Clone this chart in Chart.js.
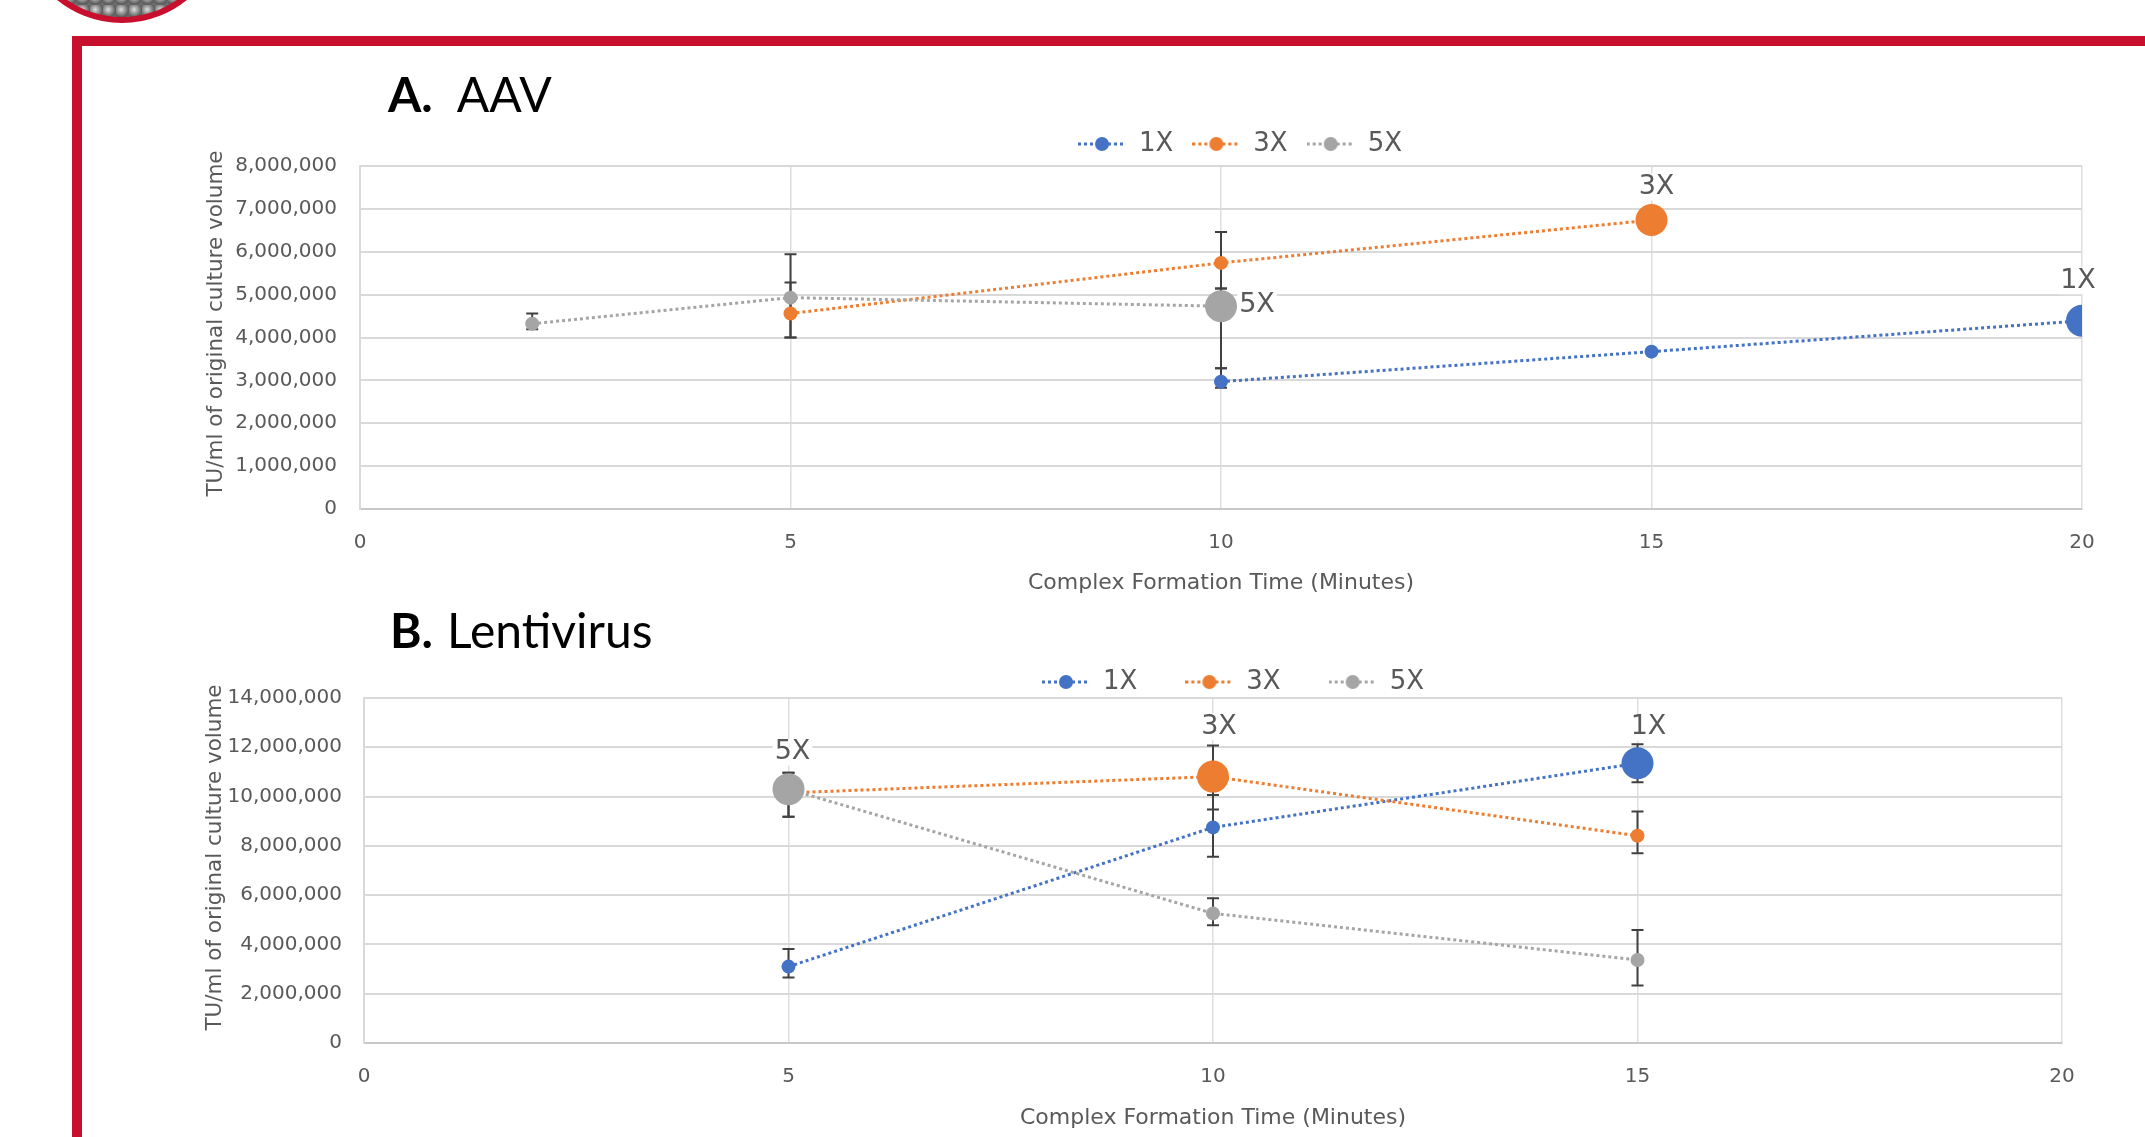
<!DOCTYPE html>
<html>
<head>
<meta charset="utf-8">
<script src="https://cdn.jsdelivr.net/npm/chart.js@4/dist/chart.umd.min.js"></script>
<style>
  html, body { margin: 0; padding: 0; background: #ffffff; }
  body { width: 2145px; height: 1137px; position: relative; overflow: hidden; }
  .frameTop { position: absolute; left: 72px; top: 36px; width: 2073px; height: 10px; background: #C8102E; }
  .frameLeft { position: absolute; left: 72px; top: 36px; width: 10px; height: 1101px; background: #C8102E; }
  .logo { position: absolute; left: 19px; top: -183px; width: 194px; height: 194px; border: 6px solid #C8102E; border-radius: 50%;
          background: radial-gradient(circle at 40% 35%, #e0e0e0 0, #a0a0a0 30%, #5c5c5c 65%, #7a7a7a 100%) 0 0 / 13px 13px, #808080; }
  canvas { position: absolute; left: 0; }
  .ptitle { position: absolute; font-family: Lato, "Open Sans", sans-serif; font-size: 48px; line-height: 48px; color: #000; white-space: nowrap; }
  .ptitle b { font-weight: 700; }
</style>
</head>
<body>
<div class="logo"></div>
<div class="frameTop"></div>
<div class="frameLeft"></div>
<canvas id="chartA" width="2145" height="600" style="top:0px"></canvas>
<canvas id="chartB" width="2145" height="537" style="top:600px"></canvas>
<div class="ptitle" style="left:388px; top:70px;"><b>A.</b><span style="margin-left:24px">AAV</span></div>
<div class="ptitle" style="left:390px; top:606px;"><b>B.</b><span style="margin-left:14px">Lentivirus</span></div>

<script>
// ---------------- DATA ----------------
const seriesNames = ['1X', '3X', '5X'];
const xTitle = 'Complex Formation Time (Minutes)';
const yTitle = 'TU/ml of original culture volume';

// Panel A: AAV
const aavX1 = [10, 15, 20];
const aavY1 = [2970000, 3670000, 4390000];
const aavErrUp1 = [310000, 0, 0];
const aavErrDn1 = [140000, 0, 0];
const aavX3 = [5, 10, 15];
const aavY3 = [4560000, 5740000, 6740000];
const aavErrUp3 = [720000, 720000, 0];
const aavErrDn3 = [560000, 600000, 0];
const aavX5 = [2, 5, 10];
const aavY5 = [4320000, 4930000, 4730000];
const aavErrUp5 = [240000, 1010000, 410000];
const aavErrDn5 = [130000, 930000, 1450000];
const aavLabelled = [2, 2, 2];          // index of the labelled (highlighted) point in each series
const aavYMax = 8000000, aavYStep = 1000000;

// Panel B: Lentivirus
const lvX1 = [5, 10, 15];
const lvY1 = [3100000, 8750000, 11350000];
const lvErrUp1 = [710000, 1310000, 770000];
const lvErrDn1 = [440000, 1190000, 770000];
const lvX3 = [5, 10, 15];
const lvY3 = [10150000, 10810000, 8410000];
const lvErrUp3 = [820000, 1260000, 980000];
const lvErrDn3 = [970000, 1330000, 710000];
const lvX5 = [5, 10, 15];
const lvY5 = [10300000, 5260000, 3370000];
const lvErrUp5 = [670000, 610000, 1220000];
const lvErrDn5 = [1120000, 480000, 1040000];
const lvLabelled = [2, 1, 0];
const lvYMax = 14000000, lvYStep = 2000000;

const xMin = 0, xMax = 20, xStep = 5;

// ---------------- STYLE ----------------
const seriesColors = ['#4472C4', '#ED7D31', '#A5A5A5'];
const FONT = '"DejaVu Sans", sans-serif';
const TEXT = '#595959';

Chart.defaults.font.family = FONT;
Chart.defaults.color = TEXT;

function toPoints(xs, ys) { return xs.map((x, i) => ({ x: x, y: ys[i] })); }

function legendIcon(color) {
  const c = document.createElement('canvas');
  c.width = 48; c.height = 16;
  const g = c.getContext('2d');
  g.strokeStyle = color; g.lineWidth = 3; g.setLineDash([3, 3]);
  g.beginPath(); g.moveTo(0, 8); g.lineTo(48, 8); g.stroke();
  g.setLineDash([]);
  g.fillStyle = color;
  g.beginPath(); g.arc(24, 8, 7, 0, Math.PI * 2); g.fill();
  return c;
}

const errorBarPlugin = {
  id: 'errorBars',
  beforeDatasetsDraw(chart, args, opts) {
    const ctx = chart.ctx, ys = chart.scales.y;
    ctx.save();
    ctx.strokeStyle = opts.color; ctx.lineWidth = opts.width; ctx.setLineDash([]);
    chart.data.datasets.forEach((ds, i) => {
      const meta = chart.getDatasetMeta(i);
      meta.data.forEach((pt, j) => {
        const up = ds.errUp[j], dn = ds.errDn[j];
        if (!up && !dn) return;
        const v = ds.data[j].y, x = pt.x;
        const yT = ys.getPixelForValue(v + up), yB = ys.getPixelForValue(v - dn);
        ctx.beginPath();
        ctx.moveTo(x, yT); ctx.lineTo(x, yB);
        if (up) { ctx.moveTo(x - opts.cap, yT); ctx.lineTo(x + opts.cap, yT); }
        if (dn) { ctx.moveTo(x - opts.cap, yB); ctx.lineTo(x + opts.cap, yB); }
        ctx.stroke();
      });
    });
    ctx.restore();
  }
};

const pointLabelPlugin = {
  id: 'pointLabels',
  afterDatasetsDraw(chart, args, opts) {
    const ctx = chart.ctx;
    ctx.save();
    ctx.font = opts.size + 'px ' + FONT;
    ctx.textAlign = 'center'; ctx.textBaseline = 'middle';
    chart.data.datasets.forEach((ds, i) => {
      const pt = chart.getDatasetMeta(i).data[ds.labelIndex];
      const off = opts.offsets[i];
      const x = pt.x + off.dx, y = pt.y + off.dy;
      const w = ctx.measureText(ds.label).width + 4;
      ctx.fillStyle = '#ffffff';
      ctx.fillRect(x - w / 2, y - opts.size * 0.5, w, opts.size);
      ctx.fillStyle = TEXT;
      ctx.fillText(ds.label, x, y);
    });
    ctx.restore();
  }
};

const legendPlacePlugin = {
  id: 'legendPlace',
  afterLayout(chart, args, opts) {
    const lg = chart.legend;
    if (!lg) return;
    const dx = opts.cx - (lg.left + lg.right) / 2;
    const dy = opts.cy - (lg.top + opts.pad + opts.fs / 2);
    lg.left += dx; lg.right += dx; lg.top += dy; lg.bottom += dy;
  }
};

// vertical axis title, placed a little above the plot-area centre as in the reference
const yTitlePlugin = {
  id: 'yAxisTitle',
  afterDraw(chart, args, opts) {
    const ctx = chart.ctx, a = chart.chartArea;
    ctx.save();
    ctx.translate(opts.x, (a.top + a.bottom) / 2 + opts.dy);
    ctx.rotate(-Math.PI / 2);
    ctx.font = opts.size + 'px ' + FONT;
    ctx.textAlign = 'center'; ctx.textBaseline = 'middle';
    ctx.fillStyle = TEXT;
    ctx.fillText(opts.text, 0, 0);
    ctx.restore();
  }
};

function makeChart(id, xsList, ysList, upList, dnList, labelled, yMax, yStep, cfg) {
  const datasets = seriesNames.map((name, i) => ({
    label: name,
    data: toPoints(xsList[i], ysList[i]),
    errUp: upList[i],
    errDn: dnList[i],
    labelIndex: labelled[i],
    order: 2 - i,
    showLine: true,
    borderColor: seriesColors[i],
    backgroundColor: seriesColors[i],
    borderWidth: 3,
    borderDash: [3, 3],
    pointBackgroundColor: seriesColors[i],
    pointBorderWidth: 0,
    pointRadius: (c) => (c.dataIndex === c.dataset.labelIndex ? 16 : 7),
    pointHoverRadius: (c) => (c.dataIndex === c.dataset.labelIndex ? 16 : 7),
    fill: false,
    tension: 0
  }));

  return new Chart(document.getElementById(id), {
    type: 'scatter',
    data: { datasets: datasets },
    options: {
      responsive: false,
      animation: false,
      events: [],
      layout: { padding: cfg.padding },
      scales: {
        x: {
          type: 'linear', min: xMin, max: xMax,
          afterFit: (s) => { s.height = 90; },
          ticks: { stepSize: xStep, padding: 22, color: TEXT, font: { size: 20, family: FONT } },
          grid: { color: '#DEDEDE', lineWidth: 1.5, drawTicks: false },
          border: { display: true, color: '#C8C8C8', width: 2 },
          title: { display: true, text: xTitle, color: TEXT, font: { size: 22, family: FONT }, padding: { top: 0, bottom: cfg.xTitlePad } }
        },
        y: {
          min: 0, max: yMax,
          afterFit: (s) => { s.width = cfg.yWidth; },
          ticks: { stepSize: yStep, padding: cfg.yTickPad, color: TEXT, font: { size: 20, family: FONT },
                   callback: (v) => Number(v).toLocaleString('en-US') },
          grid: { color: '#D9D9D9', lineWidth: 2, drawTicks: false },
          border: { display: true, color: '#D9D9D9', width: 2 },
          title: { display: false }
        }
      },
      plugins: {
        tooltip: { enabled: false },
        legend: {
          display: true, position: 'top',
          labels: {
            usePointStyle: true, pointStyleWidth: 48,
            font: { size: 26, family: FONT }, color: TEXT, padding: cfg.legendPad,
            generateLabels: (chart) => chart.data.datasets.map((ds, i) => ({
              text: ds.label, pointStyle: legendIcon(seriesColors[i]), fontColor: TEXT,
              fillStyle: seriesColors[i], strokeStyle: seriesColors[i], lineWidth: 0,
              hidden: false, datasetIndex: i
            }))
          }
        },
        errorBars: { color: '#404040', width: 2, cap: 6 },
        pointLabels: { size: 27, offsets: cfg.labelOffsets },
        legendPlace: { cx: cfg.legendCx, cy: cfg.legendCy, pad: cfg.legendPad, fs: 26 },
        yAxisTitle: { text: yTitle, size: 21.5, x: cfg.yTitleX, dy: cfg.yTitleDy }
      }
    },
    plugins: [errorBarPlugin, pointLabelPlugin, legendPlacePlugin, yTitlePlugin]
  });
}

makeChart('chartA',
  [aavX1, aavX3, aavX5], [aavY1, aavY3, aavY5],
  [aavErrUp1, aavErrUp3, aavErrUp5], [aavErrDn1, aavErrDn3, aavErrDn5],
  aavLabelled, aavYMax, aavYStep,
  { padding: { top: 111, left: 200, right: 63, bottom: 1 }, yWidth: 160, yTickPad: 23, xTitlePad: 2.8,
    legendPad: 19, legendCx: 1240, legendCy: 144, yTitleX: 216, yTitleDy: -14,
    labelOffsets: [{ dx: -4, dy: -40 }, { dx: 5, dy: -33 }, { dx: 36, dy: -1 }] });

makeChart('chartB',
  [lvX1, lvX3, lvX5], [lvY1, lvY3, lvY5],
  [lvErrUp1, lvErrUp3, lvErrUp5], [lvErrDn1, lvErrDn3, lvErrDn5],
  lvLabelled, lvYMax, lvYStep,
  { padding: { top: 14, left: 199, right: 83, bottom: 4 }, yWidth: 165, yTickPad: 22, xTitlePad: 1.8,
    legendPad: 48, legendCx: 1233, legendCy: 82, yTitleX: 215, yTitleDy: -13,
    labelOffsets: [{ dx: 11, dy: -36 }, { dx: 6, dy: -50 }, { dx: 4, dy: -37 }] });
</script>
</body>
</html>
